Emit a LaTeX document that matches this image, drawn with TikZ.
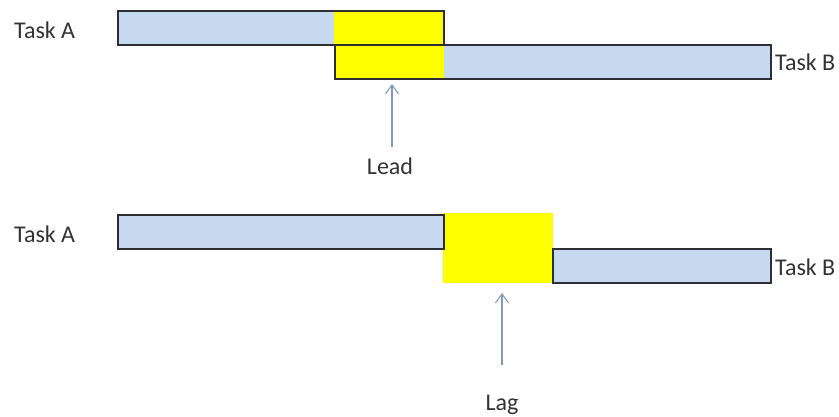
\documentclass[tikz,border=0pt]{standalone}
\usepackage{fontspec}
\setmainfont{Carlito}
\usetikzlibrary{arrows.meta}
\definecolor{barblue}{HTML}{C6D9EF}
\definecolor{baryel}{HTML}{FFFF00}
\definecolor{edge}{HTML}{2E2F33}
\definecolor{arrowc}{HTML}{7F9DBB}
\definecolor{txt}{HTML}{333333}
\tikzset{
  lbl/.style={font=\fontsize{24}{26}\selectfont, text=txt, inner sep=0pt},
  barline/.style={draw=edge, line width=1.5pt},
  pointer/.style={draw=arrowc, line width=1.1pt, -{Straight Barb[length=9pt,width=13pt,line width=1.1pt]}},
}
\begin{document}
\begin{tikzpicture}[x=1pt,y=1pt]
\useasboundingbox (0,0) rectangle (839,417);
% ---------- Lead ----------
\fill[barblue] (118,406) rectangle (444,372);
\fill[baryel] (334,406) rectangle (444,372);
\draw[barline] (118,406) rectangle (444,372);
\fill[barblue] (335,372) rectangle (771,338);
\fill[baryel] (335,372) rectangle (444,338);
\draw[barline] (335,372) rectangle (771,338);
\node[lbl, anchor=west] (ta1) at (14,387) {Task A};
\node[lbl, anchor=west] (tb1) at (775,355) {Task B};
\node[lbl] (lead) at (390,251) {Lead};
\coordinate (leadtip) at (392,333);
\draw[pointer] (392,270) -- (leadtip);
% ---------- Lag ----------
\fill[baryel] (443,204) rectangle (553,134);
\fill[barblue] (118,202) rectangle (444,168);
\draw[barline] (118,202) rectangle (444,168);
\fill[barblue] (553,168) rectangle (771,134);
\draw[barline] (553,168) rectangle (771,134);
\node[lbl, anchor=west] (ta2) at (14,183) {Task A};
\node[lbl, anchor=west] (tb2) at (775,150) {Task B};
\node[lbl] (lag) at (502,12) {Lag};
\coordinate (lagtip) at (502,124);
\draw[pointer] (502,52) -- (lagtip);
\end{tikzpicture}
\end{document}
